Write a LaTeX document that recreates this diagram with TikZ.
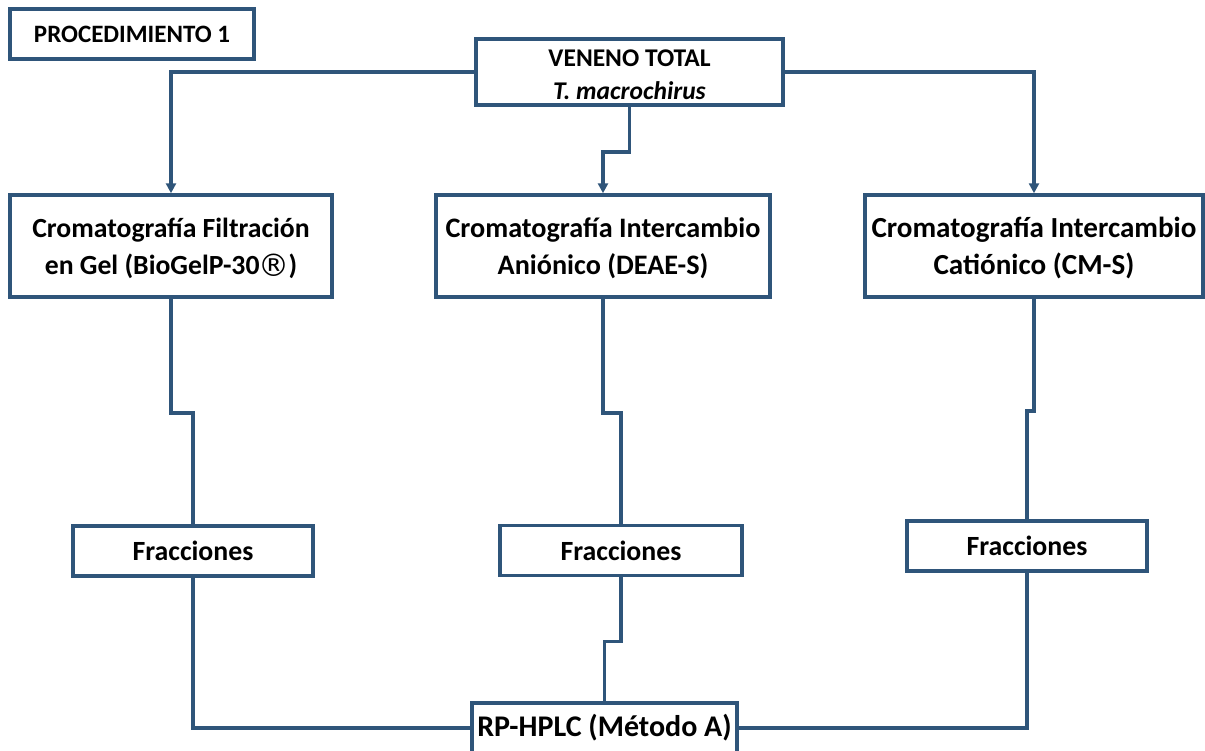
\documentclass[tikz,border=0pt]{standalone}
\usepackage{fontspec}
\setmainfont{Carlito}
\newfontfamily\symfont{DejaVu Sans}
\usetikzlibrary{arrows.meta}
\definecolor{lineblue}{RGB}{47,85,122}
\tikzset{
  box/.style={draw=lineblue, line width=3.5pt, fill=white, inner sep=0pt,
    align=center, text=black},
  link/.style={draw=lineblue, line width=3.5pt},
  arr/.style={link, -{Triangle[width=10pt,length=10pt]}}
}
\newcommand{\bfsz}[2]{\bfseries\fontsize{#1}{#2}\selectfont}
% two centred lines, lowered a little inside their box
\newcommand{\twolines}[3]{\raisebox{-#1}[\height][\depth]{\begin{tabular}{@{}c@{}}#2\\#3\end{tabular}}}
% registered sign, set large as in the product name
\newcommand{\regmark}{{\mdseries\symfont\fontsize{31}{31}\selectfont\kern-1pt\raisebox{-1.5pt}{®}\kern-1pt}}
\begin{document}
\begin{tikzpicture}[x=1pt,y=-1pt]
\useasboundingbox (0,0) rectangle (1205,750);
% boxes
\node[box, minimum width=244, minimum height=50, font=\bfsz{25}{30}] (proc) at (132,34) {PROCEDIMIENTO 1};
\node[box, minimum width=307, minimum height=64, font=\bfsz{25.5}{33}] (veneno) at (629.5,72)
  {\twolines{4pt}{VENENO TOTAL}{\textit{T. macrochirus}}};
\node[box, minimum width=322, minimum height=102, font=\bfsz{27.7}{37}] (gel) at (171,246)
  {\twolines{3pt}{Cromatografía Filtración}{en Gel (BioGelP-30\regmark)}};
\node[box, minimum width=334, minimum height=102, font=\bfsz{28.2}{37}] (anion) at (603,246)
  {\twolines{3pt}{Cromatografía Intercambio}{Aniónico (DEAE-S)}};
\node[box, minimum width=338, minimum height=102, font=\bfsz{29.1}{37}] (cation) at (1034,246)
  {\twolines{3pt}{Cromatografía Intercambio}{Catiónico (CM-S)}};
\node[box, minimum width=240, minimum height=50, font=\bfsz{27.8}{30}] (fracL) at (193,551) {Fracciones};
\node[box, minimum width=242, minimum height=50, font=\bfsz{27.8}{30}] (fracC) at (621,550.5) {Fracciones};
\node[box, minimum width=240, minimum height=50, font=\bfsz{27.8}{30}] (fracR) at (1027,546) {Fracciones};
\node[box, minimum width=265, minimum height=50, font=\bfsz{30}{32}] (hplc) at (604.5,728) {RP-HPLC (Método A)};
% connectors from the whole venom
\draw[arr] (veneno.west) -| (gel.north);
\draw[arr] (veneno.east) -| (cation.north);
\draw[arr] (veneno.south) -- ++(0,45) -| (anion.north);
% chromatography to fractions
\draw[link] (gel.south) -- ++(0,114) -| (fracL.north);
\draw[link] (anion.south) -- ++(0,114) -| (fracC.north);
\draw[link] (cation.south) -- ++(0,112) -| (fracR.north);
% fractions to RP-HPLC
\draw[link] (fracL.south) |- (hplc.west);
\draw[link] (fracR.south) |- (hplc.east);
\draw[link] (fracC.south) -- ++(0,64) -| (hplc.north);
\end{tikzpicture}
\end{document}
